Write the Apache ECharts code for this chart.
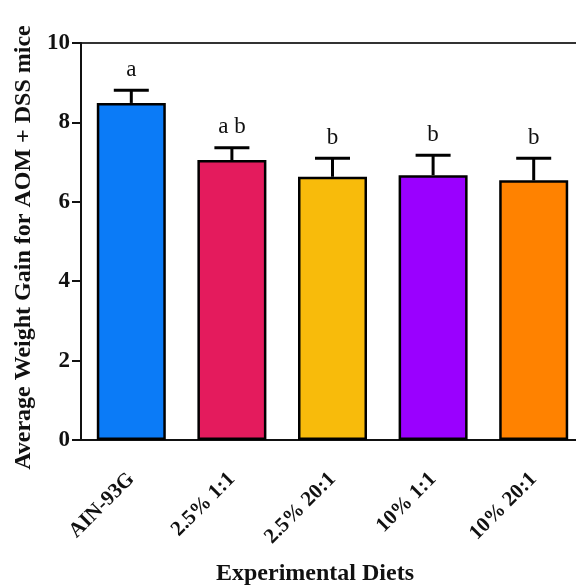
<!DOCTYPE html>
<html>
<head>
<meta charset="utf-8">
<script src="https://cdn.jsdelivr.net/npm/echarts@6/dist/echarts.min.js"></script>
<style>
html, body { margin: 0; padding: 0; background: #fff; }
#main { width: 576px; height: 587px; }
</style>
</head>
<body>
<div id="main"></div>
<script>
var myChart = echarts.init(document.getElementById('main'));

// diets, mean weight gain, SEM, significance letters
var diets = ['AIN-93G', '2.5% 1:1', '2.5% 20:1', '10% 1:1', '10% 20:1'];
var means = [8.49, 7.05, 6.63, 6.67, 6.54];
var errors = [0.32, 0.31, 0.47, 0.50, 0.56];
var letters = ['a', 'a b', 'b', 'b', 'b'];
var colors = ['#0b7bf7', '#e41b5d', '#f8bb0b', '#9a00ff', '#ff8200'];

var font = 'Liberation Serif';

var barData = means.map(function (v, i) {
    return { value: v, itemStyle: { color: colors[i] } };
});
var errData = means.map(function (v, i) {
    return [i, v, v + errors[i]];
});

option = {
    backgroundColor: '#fff',
    animation: false,
    grid: {
        left: 81,
        width: 503,
        top: 43,
        height: 397,
        outerBoundsMode: 'none',
        containLabel: false,
        show: true,
        borderColor: '#333',
        borderWidth: 2
    },
    xAxis: {
        type: 'category',
        data: diets,
        name: 'Experimental Diets',
        nameLocation: 'middle',
        nameGap: 122,
        nameTextStyle: {
            fontFamily: font,
            fontWeight: 'bold',
            fontSize: 24,
            color: '#111',
            padding: [0, 35, 0, 0]
        },
        axisLine: { lineStyle: { color: '#111', width: 2 } },
        axisTick: { alignWithLabel: true, length: 9, lineStyle: { color: '#111', width: 2 } },
        axisLabel: {
            rotate: 45,
            fontFamily: font,
            fontWeight: 'bold',
            fontSize: 21,
            color: '#111',
            margin: 36
        }
    },
    yAxis: {
        type: 'value',
        min: 0,
        max: 10,
        interval: 2,
        name: 'Average Weight Gain for AOM + DSS mice',
        nameLocation: 'middle',
        nameGap: 45,
        nameTextStyle: {
            fontFamily: font,
            fontWeight: 'bold',
            fontSize: 24,
            color: '#111',
            padding: [0, 12, 0, 0]
        },
        splitLine: { show: false },
        axisLine: { show: true, lineStyle: { color: '#111', width: 2 } },
        axisTick: { show: true, length: 9, lineStyle: { color: '#111', width: 2 } },
        axisLabel: {
            fontFamily: font,
            fontWeight: 'bold',
            fontSize: 23,
            color: '#111',
            margin: 11
        }
    },
    series: [{
        type: 'bar',
        data: barData,
        barWidth: 69,
        itemStyle: { borderColor: '#000', borderWidth: 2.5 },
        z: 3
    }, {
        type: 'custom',
        data: errData,
        z: 2,
        renderItem: function (params, api) {
            var base = api.coord([api.value(0), api.value(1)]);
            var top = api.coord([api.value(0), api.value(2)]);
            var half = 17.5;
            return {
                type: 'group',
                children: [{
                    type: 'line',
                    shape: { x1: base[0], y1: base[1], x2: top[0], y2: top[1] },
                    style: { stroke: '#000', lineWidth: 3 }
                }, {
                    type: 'line',
                    shape: { x1: top[0] - half, y1: top[1], x2: top[0] + half, y2: top[1] },
                    style: { stroke: '#000', lineWidth: 3 }
                }, {
                    type: 'text',
                    style: {
                        text: letters[params.dataIndex],
                        x: top[0],
                        y: top[1] - 9,
                        textAlign: 'center',
                        textVerticalAlign: 'bottom',
                        font: '23px "Liberation Serif"',
                        fill: '#111'
                    }
                }]
            };
        }
    }]
};

myChart.setOption(option);
</script>
</body>
</html>
